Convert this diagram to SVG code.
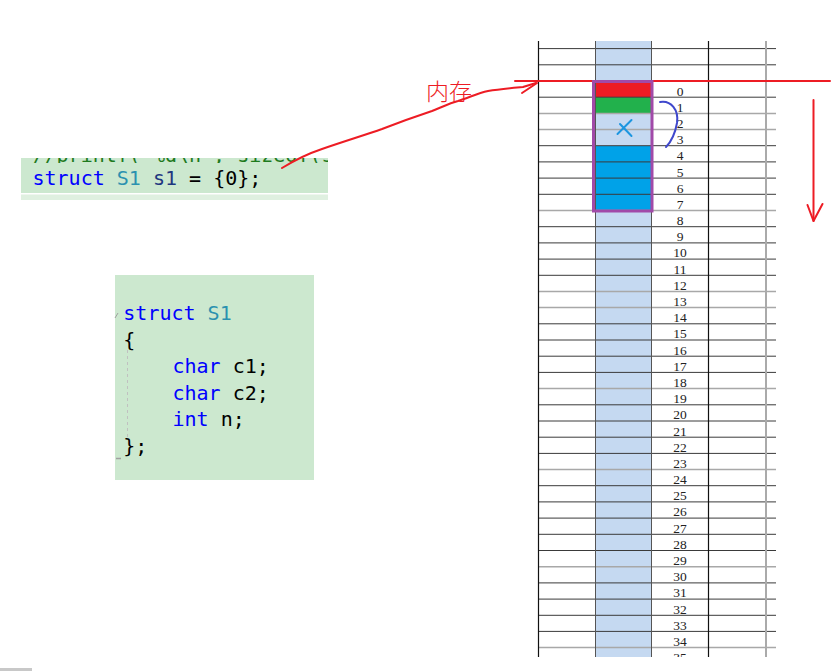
<svg xmlns="http://www.w3.org/2000/svg" width="834" height="671" viewBox="0 0 834 671">
<style>
.code{font-family:"DejaVu Sans Mono","Liberation Mono",monospace;font-size:20px;}
.kw{fill:#0000ff}.ty{fill:#2b91af}.var{fill:#1f377f}.pl{fill:#000}
.num{font-family:"Liberation Serif","DejaVu Serif",serif;font-size:13.5px;fill:#222;text-anchor:middle}
.hl{stroke:#3a3a3a;stroke-width:1}
.hg{stroke:#a8a8a8;stroke-width:1.5}
.red{stroke:#ed1c24;fill:none;stroke-width:2;stroke-linecap:round;stroke-linejoin:round}
</style>
<defs>
<clipPath id="gridclip"><rect x="530" y="38" width="304" height="619"/></clipPath>
<clipPath id="cmtclip"><rect x="21" y="158" width="307" height="5"/></clipPath>
</defs>
<rect width="834" height="671" fill="#fff"/>

<g id="code-decl">
<rect x="21" y="158" width="307" height="35" fill="#cce8cf"/>
<rect x="21" y="194.5" width="307" height="5.5" fill="#dff0e0"/>
<text class="code" x="32.5" y="161.5" fill="#1e7a1e" clip-path="url(#cmtclip)">//printf("%d\n", sizeof(s1));</text>
<text class="code" x="32.5" y="185"><tspan class="kw">struct</tspan> <tspan class="ty">S1</tspan> <tspan class="var">s1</tspan><tspan class="pl"> = {0};</tspan></text>
</g>

<g id="code-struct">
<rect x="115" y="275" width="199" height="205" fill="#cce8cf"/>
<line x1="127.5" y1="350" x2="127.5" y2="437" stroke="#c0c0c0" stroke-width="1" stroke-dasharray="3,3"/>
<line x1="115" y1="318" x2="118" y2="313" stroke="#a0a0a0" stroke-width="1"/>
<line x1="116" y1="458.5" x2="121" y2="458.5" stroke="#a0a0a0" stroke-width="1.5"/>
<text class="code" x="123.3" y="320"><tspan class="kw">struct</tspan> <tspan class="ty">S1</tspan></text>
<text class="code pl" x="123.3" y="346.5">{</text>
<text class="code" x="172.5" y="373"><tspan class="kw">char</tspan><tspan class="pl"> c1;</tspan></text>
<text class="code" x="172.5" y="399.5"><tspan class="kw">char</tspan><tspan class="pl"> c2;</tspan></text>
<text class="code" x="172.5" y="426"><tspan class="kw">int</tspan><tspan class="pl"> n;</tspan></text>
<text class="code pl" x="123.3" y="452.5">};</text>
</g>

<g id="memory" clip-path="url(#gridclip)">
<rect x="596" y="41" width="56" height="616" fill="#c5d9f1"/>
<rect x="595" y="81" width="57" height="16.2" fill="#ed1c24"/>
<rect x="595" y="97.2" width="57" height="16.2" fill="#22b14c"/>
<rect x="595" y="146" width="57" height="65" fill="#00a2e8"/>
<g id="hlines">
<line class="hl" x1="538" y1="48.6" x2="776" y2="48.6"/>
<line class="hl" x1="538" y1="64.8" x2="776" y2="64.8"/>
<line class="hl" x1="538" y1="97.2" x2="776" y2="97.2"/>
<line class="hg" x1="538" y1="113.4" x2="776" y2="113.4"/>
<line class="hg" x1="538" y1="129.6" x2="776" y2="129.6"/>
<line class="hl" x1="538" y1="145.7" x2="776" y2="145.7"/>
<line class="hl" x1="538" y1="161.9" x2="776" y2="161.9"/>
<line class="hl" x1="538" y1="178.1" x2="776" y2="178.1"/>
<line class="hl" x1="538" y1="194.3" x2="776" y2="194.3"/>
<line class="hg" x1="538" y1="210.5" x2="776" y2="210.5"/>
<line class="hl" x1="538" y1="226.7" x2="776" y2="226.7"/>
<line class="hl" x1="538" y1="242.9" x2="776" y2="242.9"/>
<line class="hl" x1="538" y1="259.1" x2="776" y2="259.1"/>
<line class="hl" x1="538" y1="275.3" x2="776" y2="275.3"/>
<line class="hg" x1="538" y1="291.5" x2="776" y2="291.5"/>
<line class="hg" x1="538" y1="307.6" x2="776" y2="307.6"/>
<line class="hl" x1="538" y1="323.8" x2="776" y2="323.8"/>
<line class="hl" x1="538" y1="340.0" x2="776" y2="340.0"/>
<line class="hl" x1="538" y1="356.2" x2="776" y2="356.2"/>
<line class="hl" x1="538" y1="372.4" x2="776" y2="372.4"/>
<line class="hg" x1="538" y1="388.6" x2="776" y2="388.6"/>
<line class="hl" x1="538" y1="404.8" x2="776" y2="404.8"/>
<line class="hl" x1="538" y1="421.0" x2="776" y2="421.0"/>
<line class="hl" x1="538" y1="437.2" x2="776" y2="437.2"/>
<line class="hl" x1="538" y1="453.4" x2="776" y2="453.4"/>
<line class="hg" x1="538" y1="469.5" x2="776" y2="469.5"/>
<line class="hl" x1="538" y1="485.7" x2="776" y2="485.7"/>
<line class="hl" x1="538" y1="501.9" x2="776" y2="501.9"/>
<line class="hl" x1="538" y1="518.1" x2="776" y2="518.1"/>
<line class="hl" x1="538" y1="534.3" x2="776" y2="534.3"/>
<line class="hl" x1="538" y1="550.5" x2="776" y2="550.5"/>
<line class="hg" x1="538" y1="566.7" x2="776" y2="566.7"/>
<line class="hl" x1="538" y1="582.9" x2="776" y2="582.9"/>
<line class="hl" x1="538" y1="599.1" x2="776" y2="599.1"/>
<line class="hl" x1="538" y1="615.3" x2="776" y2="615.3"/>
<line class="hl" x1="538" y1="631.4" x2="776" y2="631.4"/>
<line class="hg" x1="538" y1="647.6" x2="776" y2="647.6"/>
</g>
<g id="vlines">
<line x1="538.5" y1="41" x2="538.5" y2="657" stroke="#111" stroke-width="1.2"/>
<line x1="595.5" y1="41" x2="595.5" y2="657" stroke="#555" stroke-width="1"/>
<line x1="651.5" y1="41" x2="651.5" y2="657" stroke="#555" stroke-width="1"/>
<line x1="708.5" y1="41" x2="708.5" y2="657" stroke="#111" stroke-width="1.2"/>
<line x1="766" y1="41" x2="766" y2="657" stroke="#aaa" stroke-width="2"/>
</g>
<g id="labels">
<text class="num" x="680" y="95.5">0</text>
<text class="num" x="680" y="111.7">1</text>
<text class="num" x="680" y="127.9">2</text>
<text class="num" x="680" y="144.1">3</text>
<text class="num" x="680" y="160.3">4</text>
<text class="num" x="680" y="176.5">5</text>
<text class="num" x="680" y="192.6">6</text>
<text class="num" x="680" y="208.8">7</text>
<text class="num" x="680" y="225.0">8</text>
<text class="num" x="680" y="241.2">9</text>
<text class="num" x="680" y="257.4">10</text>
<text class="num" x="680" y="273.6">11</text>
<text class="num" x="680" y="289.8">12</text>
<text class="num" x="680" y="306.0">13</text>
<text class="num" x="680" y="322.2">14</text>
<text class="num" x="680" y="338.4">15</text>
<text class="num" x="680" y="354.5">16</text>
<text class="num" x="680" y="370.7">17</text>
<text class="num" x="680" y="386.9">18</text>
<text class="num" x="680" y="403.1">19</text>
<text class="num" x="680" y="419.3">20</text>
<text class="num" x="680" y="435.5">21</text>
<text class="num" x="680" y="451.7">22</text>
<text class="num" x="680" y="467.9">23</text>
<text class="num" x="680" y="484.1">24</text>
<text class="num" x="680" y="500.3">25</text>
<text class="num" x="680" y="516.4">26</text>
<text class="num" x="680" y="532.6">27</text>
<text class="num" x="680" y="548.8">28</text>
<text class="num" x="680" y="565.0">29</text>
<text class="num" x="680" y="581.2">30</text>
<text class="num" x="680" y="597.4">31</text>
<text class="num" x="680" y="613.6">32</text>
<text class="num" x="680" y="629.8">33</text>
<text class="num" x="680" y="646.0">34</text>
<text class="num" x="680" y="662.2">35</text>
</g>
</g>

<g id="connectors">
<line class="red" x1="515" y1="81" x2="830" y2="81"/>
<path class="red" d="M282,168 C295,160 310,153 322,149 C345,141 365,135 382,129 C400,122 420,115 432,111 C442,107 450,103 458,101 C468,98 478,93 488,91 C500,89 512,88 523,87 L536,83"/>
<path class="red" d="M522,93 L537,83"/>
<line class="red" x1="813.5" y1="100" x2="813.5" y2="221"/>
<path class="red" d="M807.5,205 L813.5,221 L822.5,204"/>
<path d="M660,102 C671,100 679,110 677,123 C675,134 671,142 666,147" fill="none" stroke="#3f48cc" stroke-width="2" stroke-linecap="round"/>
<path d="M617.5,134 L631.5,120 M620,124 L631.5,136" fill="none" stroke="#1c96e0" stroke-width="2" stroke-linecap="round"/>
</g>

<rect id="purple-box" x="593.5" y="81.5" width="58.5" height="129.5" fill="none" stroke="#a14aa8" stroke-width="3"/>

<g id="label-memory">
<text x="426" y="99.5" font-family="Noto Sans CJK SC, sans-serif" font-size="23" font-weight="300" fill="#ed1c24">内存</text>
</g>

<rect x="0" y="668" width="32" height="3" fill="#c8c8c8"/>
</svg>
